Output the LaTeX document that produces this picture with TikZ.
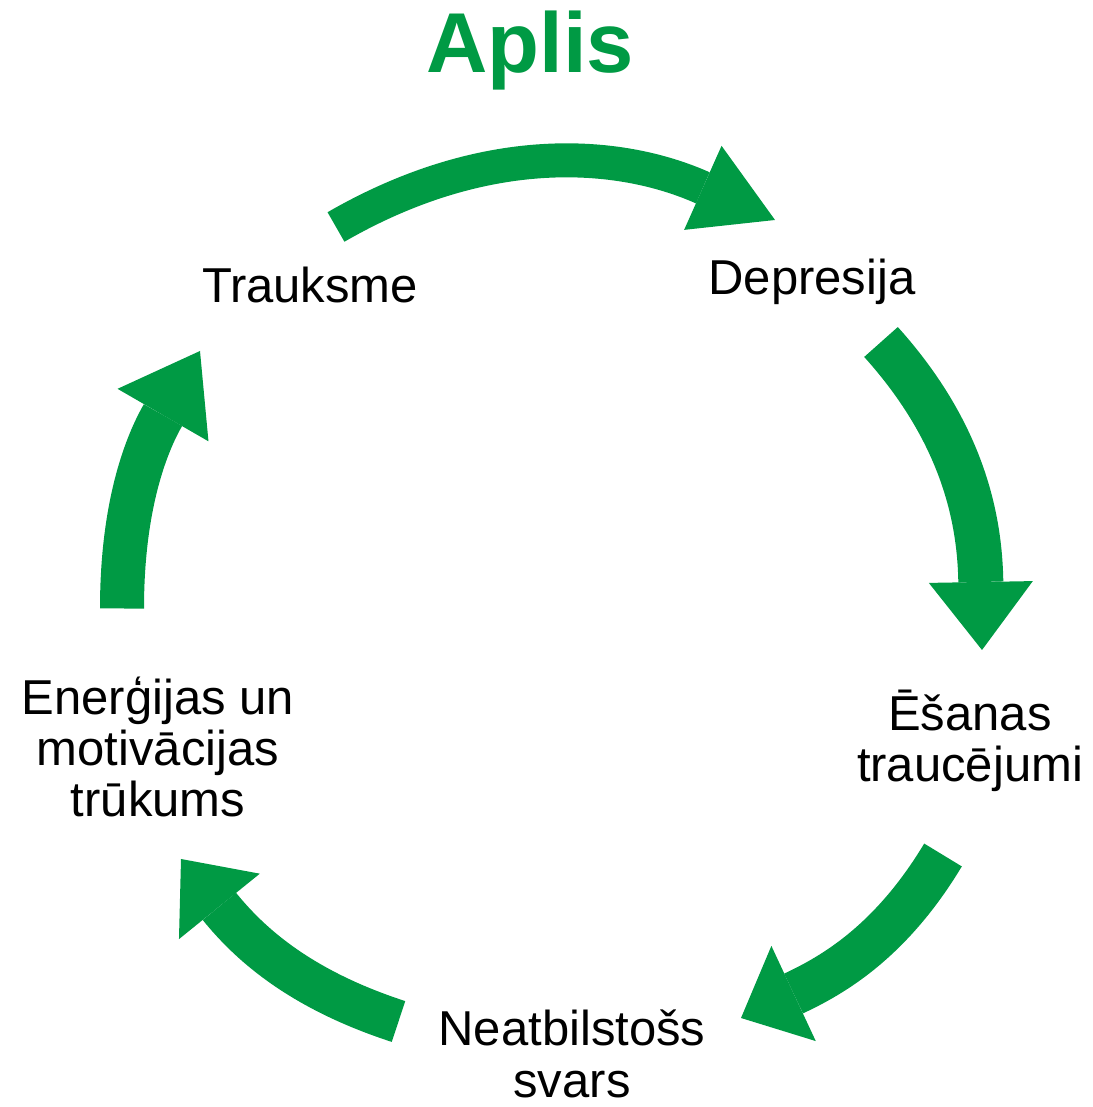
\documentclass[tikz,border=0pt]{standalone}
\usepackage{fontspec}
\setmainfont{Liberation Sans}
\usetikzlibrary{arrows.meta,positioning}
\definecolor{cyclegreen}{HTML}{009A44}

\begin{document}
\begin{tikzpicture}
    [
        x=0.5pt, y=0.5pt,
        Heading/.style={font=\fontsize{42.5}{45}\selectfont\bfseries, text=cyclegreen, anchor=base, inner sep=0pt},
        Stage/.style={font=\fontsize{24.5}{25.5}\selectfont, align=center, anchor=base, inner sep=0pt},
        CycleArrow/.style={draw=cyclegreen, line width=22pt}
    ]
    \useasboundingbox (0,0) rectangle (1092,1107);

    \node[Heading] (aplis) at (530,1034) {Aplis};
    \node[Stage] (trauksme) at (310,804) {Trauksme};
    \node[Stage] (depresija) at (812,812) {Depresija};
    \node[Stage] (esanas_traucejumi) at (970,325) {Ēšanas\\traucējumi};
    \node[Stage] (neatbilstoss_svars) at (572,10) {Neatbilstošs\\svars};
    \node[Stage] (energijas_trukums) at (158,290) {Enerģijas un\\motivācijas\\trūkums};

    \coordinate (trauksme_out) at (336,880);
    \coordinate (depresija_in) at (775,887);
    \coordinate (depresija_out) at (881,765);
    \coordinate (esanas_in) at (982,457);
    \coordinate (esanas_out) at (943,252);
    \coordinate (svars_in) at (741,89);
    \coordinate (svars_out) at (398.5,85.5);
    \coordinate (energijas_in) at (181,248);
    \coordinate (energijas_out) at (122,498.5);
    \coordinate (trauksme_in) at (200,756);

    \draw[CycleArrow, line width=17pt, -{Triangle[width=46pt,length=39.5pt,line width=0pt]}] (trauksme_out) to[out=30,in=156] (depresija_in);
    \draw[CycleArrow, line width=22.5pt, -{Triangle[width=52pt,length=34pt,line width=0pt]}] (depresija_out) to[out=-48,in=91] (esanas_in);
    \draw[CycleArrow, -{Triangle[width=52.5pt,length=29pt,line width=0pt]}] (esanas_out) to[out=-121,in=25] (svars_in);
    \draw[CycleArrow, line width=21.5pt, -{Triangle[width=52pt,length=30.5pt,line width=0pt]}] (svars_out) to[out=162,in=-51] (energijas_in);
    \draw[CycleArrow, -{Triangle[width=52.5pt,length=37pt,line width=0pt]}] (energijas_out) to[out=90,in=240] (trauksme_in);
\end{tikzpicture}
\end{document}
